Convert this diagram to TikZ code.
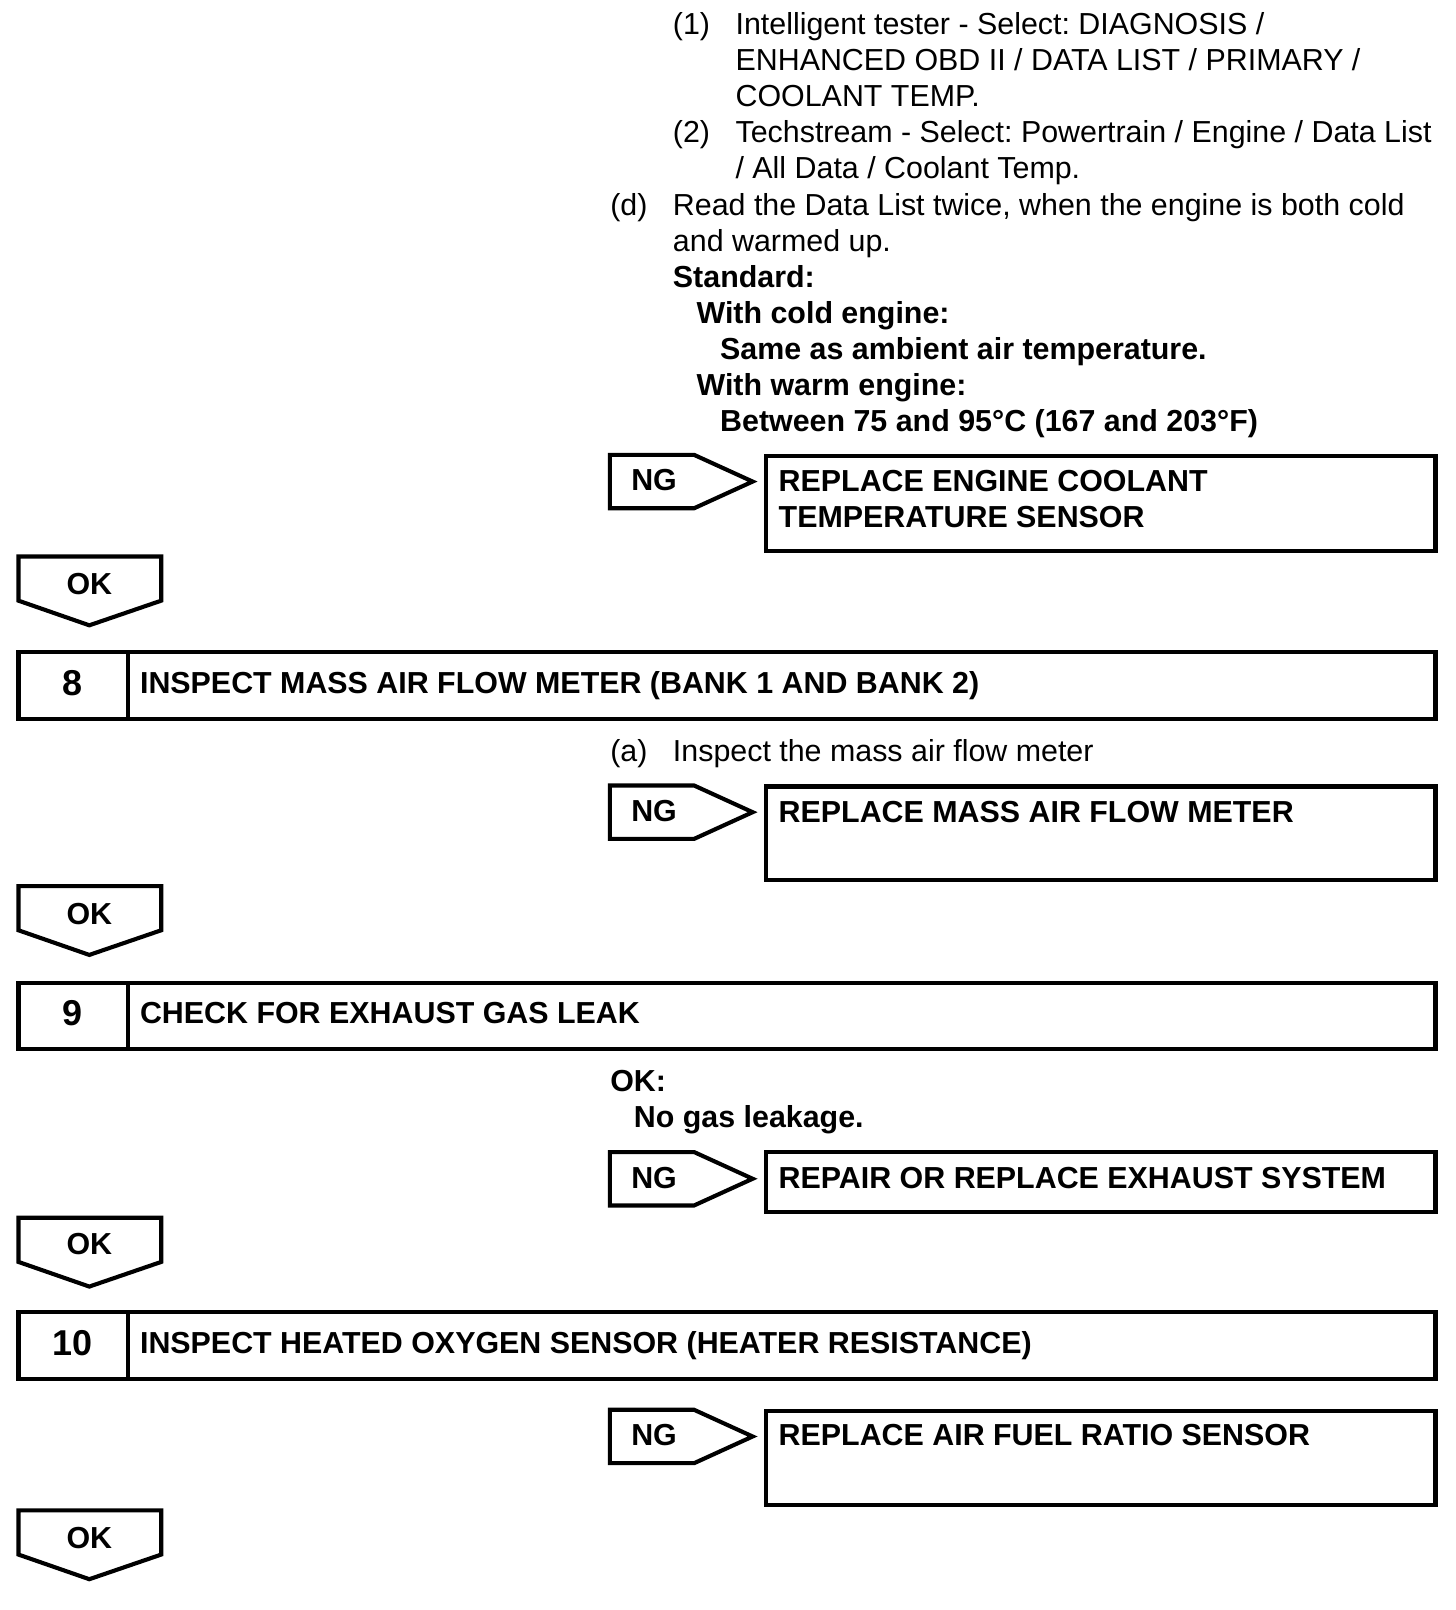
\documentclass[tikz,border=0pt]{standalone}
\usepackage{fontspec}
\setmainfont{Liberation Sans}
\usepackage{tikz}
\frenchspacing

\begin{document}
\begin{tikzpicture}[x=0.5pt,y=-0.5pt,
    txt/.style={anchor=base west,inner sep=0pt,font=\fontsize{14.8}{17.6}\selectfont},
    bold/.style={txt,font=\fontsize{14.8}{17.6}\selectfont\bfseries},
    tag/.style={anchor=base,inner sep=0pt,font=\fontsize{14.8}{17.6}\selectfont\bfseries},
    num/.style={anchor=base,inner sep=0pt,font=\fontsize{17.5}{20}\selectfont\bfseries},
    frame/.style={draw=black,line width=2pt,line join=miter}]
    \useasboundingbox (0,0) rectangle (1418,1568);

    % step 7 (continued)
    \node[txt] (s1n) at (655,34) {(1)};
    \node[txt] (s1a) at (716,34) {Intelligent tester - Select: DIAGNOSIS /};
    \node[txt] (s1b) at (716,69) {ENHANCED OBD II / DATA LIST / PRIMARY /};
    \node[txt] (s1c) at (716,104) {COOLANT TEMP.};
    \node[txt] (s2n) at (655,139) {(2)};
    \node[txt] (s2a) at (716,139) {Techstream - Select: Powertrain / Engine / Data List};
    \node[txt] (s2b) at (716,174) {/ All Data / Coolant Temp.};
    \node[txt] (dn)  at (594,210) {(d)};
    \node[txt] (da)  at (655,210) {Read the Data List twice, when the engine is both cold};
    \node[txt] (db)  at (655,245) {and warmed up.};
    \node[bold] (std)   at (655,280) {Standard:};
    \node[bold] (cold)  at (678,315) {With cold engine:};
    \node[bold] (coldv) at (701,350) {Same as ambient air temperature.};
    \node[bold] (warm)  at (678,385) {With warm engine:};
    \node[bold] (warmv) at (701,420) {Between 75 and 95\textdegree C (167 and 203\textdegree F)};

    \draw[frame] (594,443) -- (676,443) -- (733,469) -- (676,495) -- (594,495) -- cycle;
    \node[tag] (ng7) at (637,478) {NG};
    \draw[frame] (746,444) rectangle (1398,537);
    \node[bold] (res7a) at (758,479) {REPLACE ENGINE COOLANT};
    \node[bold] (res7b) at (758,514) {TEMPERATURE SENSOR};

    \draw[frame] (18,542) -- (157,542) -- (157,585) -- (87,609) -- (18,585) -- cycle;
    \node[tag] (ok7) at (87,579) {OK};

    % step 8
    \draw[frame] (18,635) rectangle (1398,700);
    \draw[frame] (125,635) -- (125,700);
    \node[num] (n8) at (71,677) {8};
    \node[bold] (t8) at (136,675) {INSPECT MASS AIR FLOW METER (BANK 1 AND BANK 2)};
    \node[txt] (an) at (594,742) {(a)};
    \node[txt] (aa) at (655,742) {Inspect the mass air flow meter};

    \draw[frame] (594,765) -- (676,765) -- (733,791) -- (676,817) -- (594,817) -- cycle;
    \node[tag] (ng8) at (637,800) {NG};
    \draw[frame] (746,766) rectangle (1398,857);
    \node[bold] (res8) at (758,801) {REPLACE MASS AIR FLOW METER};

    \draw[frame] (18,863) -- (157,863) -- (157,906) -- (87,930) -- (18,906) -- cycle;
    \node[tag] (ok8) at (87,900) {OK};

    % step 9
    \draw[frame] (18,957) rectangle (1398,1022);
    \draw[frame] (125,957) -- (125,1022);
    \node[num] (n9) at (71,999) {9};
    \node[bold] (t9) at (136,997) {CHECK FOR EXHAUST GAS LEAK};
    \node[bold] (okh)  at (594,1063) {OK:};
    \node[bold] (okv)  at (617,1098) {No gas leakage.};

    \draw[frame] (594,1122) -- (676,1122) -- (733,1148) -- (676,1174) -- (594,1174) -- cycle;
    \node[tag] (ng9) at (637,1157) {NG};
    \draw[frame] (746,1122) rectangle (1398,1180);
    \node[bold] (res9) at (758,1157) {REPAIR OR REPLACE EXHAUST SYSTEM};

    \draw[frame] (18,1186) -- (157,1186) -- (157,1229) -- (87,1253) -- (18,1229) -- cycle;
    \node[tag] (ok9) at (87,1222) {OK};

    % step 10
    \draw[frame] (18,1278) rectangle (1398,1343);
    \draw[frame] (125,1278) -- (125,1343);
    \node[num] (n10) at (71,1320) {10};
    \node[bold] (t10) at (136,1318) {INSPECT HEATED OXYGEN SENSOR (HEATER RESISTANCE)};

    \draw[frame] (594,1373) -- (676,1373) -- (733,1399) -- (676,1425) -- (594,1425) -- cycle;
    \node[tag] (ng10) at (637,1408) {NG};
    \draw[frame] (746,1374) rectangle (1398,1466);
    \node[bold] (res10) at (758,1408) {REPLACE AIR FUEL RATIO SENSOR};

    \draw[frame] (18,1471) -- (157,1471) -- (157,1514) -- (87,1538) -- (18,1514) -- cycle;
    \node[tag] (ok10) at (87,1508) {OK};
\end{tikzpicture}
\end{document}
